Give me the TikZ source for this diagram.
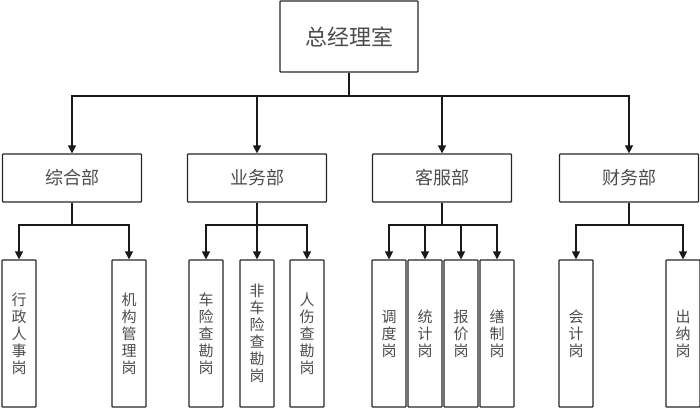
\documentclass[tikz,border=0pt]{standalone}
\usepackage{fontspec}
\setmainfont{Noto Sans CJK SC}
\usetikzlibrary{arrows.meta}

\tikzset{
    unitbox/.style = {draw = black!85, line width = 1.2pt, rounded corners = 0.8pt, text = black!70, inner sep = 0pt},
    topbox/.style = {unitbox, minimum width = 138pt, minimum height = 71pt, font = \fontsize{22pt}{24pt}\selectfont},
    deptbox/.style = {unitbox, minimum width = 139pt, minimum height = 48pt, font = \fontsize{18pt}{20pt}\selectfont},
    postbox/.style = {unitbox, minimum width = 34pt, minimum height = 147pt, align = center, font = \fontsize{15pt}{17pt}\selectfont},
    link/.style = {draw = black!90, line width = 1.2pt, -{Triangle[width = 8pt, length = 8pt]}}
}

\begin{document}
\begin{tikzpicture}[x = 1pt, y = -1pt]
    \useasboundingbox (0,0) rectangle (700,409);
    \node[topbox] (gm) at (349,36.5) {总经理室};
    \node[deptbox] (zh) at (72,178) {综合部};
    \node[deptbox] (yw) at (257,178) {业务部};
    \node[deptbox] (kf) at (442,178) {客服部};
    \node[deptbox] (cw) at (629,178) {财务部};
    \node[postbox] (xz) at (19,333.5) {行\\政\\人\\事\\岗};
    \node[postbox] (jg) at (129,333.5) {机\\构\\管\\理\\岗};
    \node[postbox] (cx) at (206,333.5) {车\\险\\查\\勘\\岗};
    \node[postbox] (fc) at (257,333.5) {非\\车\\险\\查\\勘\\岗};
    \node[postbox] (rs) at (307,333.5) {人\\伤\\查\\勘\\岗};
    \node[postbox] (dd) at (389,333.5) {调\\度\\岗};
    \node[postbox] (tj) at (425,333.5) {统\\计\\岗};
    \node[postbox] (bj) at (461,333.5) {报\\价\\岗};
    \node[postbox] (sz) at (497,333.5) {缮\\制\\岗};
    \node[postbox] (kj) at (576,333.5) {会\\计\\岗};
    \node[postbox] (cn) at (683,333.5) {出\\纳\\岗};
    \coordinate (top bar) at (0,96);
    \coordinate (low bar) at (0,225);
    % general manager to departments
    \draw[link] (gm.south) -- (gm.south |- top bar) -| (zh.north);
    \draw[link] (gm.south) -- (gm.south |- top bar) -| (yw.north);
    \draw[link] (gm.south) -- (gm.south |- top bar) -| (kf.north);
    \draw[link] (gm.south) -- (gm.south |- top bar) -| (cw.north);
    % departments to posts
    \draw[link] (zh.south) -- (zh.south |- low bar) -| (xz.north);
    \draw[link] (zh.south) -- (zh.south |- low bar) -| (jg.north);
    \draw[link] (yw.south) -- (yw.south |- low bar) -| (cx.north);
    \draw[link] (yw.south) -- (fc.north);
    \draw[link] (yw.south) -- (yw.south |- low bar) -| (rs.north);
    \draw[link] (kf.south) -- (kf.south |- low bar) -| (dd.north);
    \draw[link] (kf.south) -- (kf.south |- low bar) -| (tj.north);
    \draw[link] (kf.south) -- (kf.south |- low bar) -| (bj.north);
    \draw[link] (kf.south) -- (kf.south |- low bar) -| (sz.north);
    \draw[link] (cw.south) -- (cw.south |- low bar) -| (kj.north);
    \draw[link] (cw.south) -- (cw.south |- low bar) -| (cn.north);
\end{tikzpicture}
\end{document}
